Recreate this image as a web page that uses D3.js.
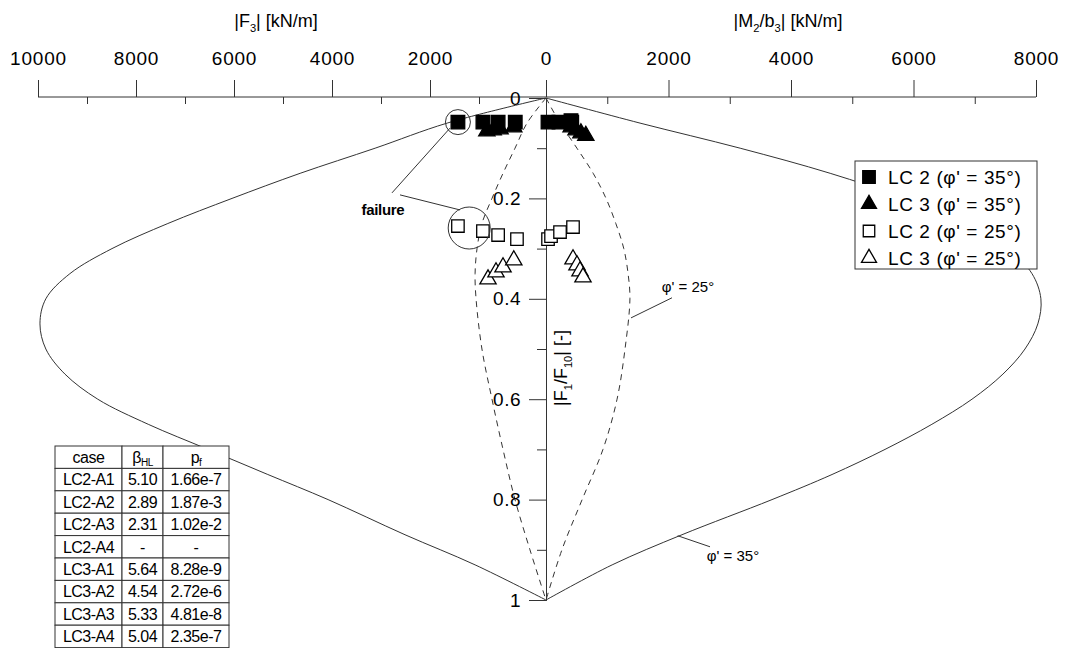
<!DOCTYPE html>
<html>
<head>
<meta charset="utf-8">
<script src="https://cdn.jsdelivr.net/npm/d3@7"></script>
<style>
body { margin: 0; background: #fff; }
text { font-family: "Liberation Sans", Arial, sans-serif; fill: #000; }
</style>
</head>
<body>
<svg id="chart" width="1076" height="648"></svg>
<script>
// ---- data ----
var ratioTicks = [0, 0.2, 0.4, 0.6, 0.8, 1];
var ratioMinor = [0.1, 0.3, 0.5, 0.7, 0.9];
var f3Ticks = [10000, 8000, 6000, 4000, 2000];
var f3Minor = [9000, 7000, 5000, 3000, 1000];
var m2Ticks = [0, 2000, 4000, 6000, 8000];
var m2Minor = [1000, 3000, 5000, 7000];

// envelopes: ratio |F1/F10| and matching |F3| (left) or |M2/b3| (right)
var envRatio = [0, 0.05, 0.1, 0.15, 0.2, 0.25, 0.3, 0.35, 0.4, 0.45, 0.5, 0.55, 0.6, 0.65, 0.7, 0.75, 0.8, 0.87, 0.93, 1];
var env35F3 = [-367, 1650, 3120, 4650, 6040, 7350, 8490, 9350, 9840, 9960, 9840, 9450, 8780, 7750, 6530, 5310, 4080, 2510, 1080, -367];
var env35M2 = [0, 1535, 3170, 4640, 5860, 6840, 7540, 7935, 8080, 8030, 7820, 7460, 6955, 6300, 5535, 4670, 3690, 2220, 1080, 0];
var dashRatio = [0, 0.05, 0.1, 0.15, 0.2, 0.25, 0.3, 0.35, 0.4, 0.5, 0.6, 0.7, 0.8, 0.9, 1];
var env25F3 = [-367, 20, 265, 510, 735, 940, 1040, 1080, 1060, 940, 735, 510, 265, -40, -367];
var env25M2 = [0, 230, 505, 770, 980, 1140, 1270, 1340, 1370, 1290, 1160, 930, 590, 260, 0];

var seriesNames = ["LC 2 (\u03c6' = 35\u00b0)", "LC 3 (\u03c6' = 35\u00b0)", "LC 2 (\u03c6' = 25\u00b0)", "LC 3 (\u03c6' = 25\u00b0)"];
// per series: cases A1..A4
var leftF3 = [[1430, 920, 610, 260], [840, 710, 570, 290], [1430, 920, 610, 225], [816, 653, 510, 290]];
var leftRatio = [[0.048, 0.048, 0.048, 0.048], [0.066, 0.064, 0.062, 0.058], [0.255, 0.265, 0.273, 0.281], [0.361, 0.347, 0.337, 0.323]];
var rightM2 = [[33, 212, 408, 420], [410, 490, 570, 650], [33, 82, 229, 441], [441, 506, 555, 604]];
var rightRatio = [[0.048, 0.048, 0.045, 0.048], [0.058, 0.064, 0.07, 0.075], [0.281, 0.275, 0.267, 0.257], [0.321, 0.333, 0.345, 0.357]];

var tableHead = ["case", "\u03b2", "p"];
var tableCases = ["LC2-A1", "LC2-A2", "LC2-A3", "LC2-A4", "LC3-A1", "LC3-A2", "LC3-A3", "LC3-A4"];
var tableBeta = ["5.10", "2.89", "2.31", "-", "5.64", "4.54", "5.33", "5.04"];
var tablePf = ["1.66e-7", "1.87e-3", "1.02e-2", "-", "8.28e-9", "2.72e-6", "4.81e-8", "2.35e-7"];

// ---- scales ----
var svg = d3.select("#chart");
var xL = d3.scaleLinear().domain([10000, 0]).range([38, 528]);
var xR = d3.scaleLinear().domain([0, 8000]).range([546, 1036]);
var y = d3.scaleLinear().domain([0, 1]).range([98, 600]);

// ---- envelopes ----
function envLine(sc, vals) {
  return d3.line().x(function(d, i) { return sc(vals[i]); }).y(function(d) { return y(d); }).curve(d3.curveCatmullRom);
}
[[xL, env35F3, envRatio, null], [xR, env35M2, envRatio, null],
 [xL, env25F3, dashRatio, "6,5"], [xR, env25M2, dashRatio, "6,5"]].forEach(function(e) {
  svg.append("path")
    .attr("d", envLine(e[0], e[1])(e[2]))
    .attr("fill", "none")
    .attr("stroke", "#333")
    .attr("stroke-width", 1)
    .attr("stroke-dasharray", e[3]);
});

// ---- top axes ----
svg.append("line").attr("x1", xL(10000)).attr("x2", xR(8000))
  .attr("y1", y(0) - 1).attr("y2", y(0) - 1).attr("stroke", "#333");

function topAxis(sc, major, minor) {
  var g = svg.append("g").attr("transform", "translate(0," + (y(0) - 1) + ")");
  g.call(d3.axisTop(sc).tickValues(major).tickSize(17).tickPadding(15).tickFormat(d3.format("d")));
  g.append("g").call(d3.axisTop(sc).tickValues(minor).tickSize(-7).tickFormat(""));
  g.selectAll(".domain").remove();
  g.selectAll("line").attr("stroke", "#333");
  g.selectAll("text").attr("font-size", 19).attr("letter-spacing", 0.8)
    .attr("font-family", "Liberation Sans, Arial, sans-serif");
}
topAxis(xL, f3Ticks, f3Minor);
topAxis(xR, m2Ticks, m2Minor);

// ---- y axis ----
var gy = svg.append("g").attr("transform", "translate(" + xR(0) + ",0)");
gy.call(d3.axisLeft(y).tickValues(ratioTicks).tickSize(17).tickPadding(8)
  .tickFormat(function(d) { return d === 0 || d === 1 ? d3.format("d")(d) : d3.format(".1f")(d); }));
gy.append("g").call(d3.axisLeft(y).tickValues(ratioMinor).tickSize(9).tickFormat(""));
gy.selectAll(".domain").attr("stroke", "#333");
gy.selectAll("line").attr("stroke", "#333");
gy.selectAll("text").attr("font-size", 19).attr("letter-spacing", 0.5)
  .attr("font-family", "Liberation Sans, Arial, sans-serif");

// axis titles
function subTitle(x0, y0, parts, size) {
  var t = svg.append("text").attr("x", x0).attr("y", y0).attr("text-anchor", "middle").attr("font-size", size);
  parts.forEach(function(p) {
    var s = t.append("tspan").text(p[0]);
    if (p[1]) s.attr("font-size", size * 0.62).attr("dy", 5);
    else if (p[2]) s.attr("dy", -5);
  });
  return t;
}
subTitle(276, 27, [["|F"], ["3", 1], ["| [kN/m]", 0, 1]], 18);
subTitle(788, 27, [["|M"], ["2", 1], ["/b", 0, 1], ["3", 1], ["| [kN/m]", 0, 1]], 18);
subTitle(0, 0, [["|F"], ["1", 1], ["/F", 0, 1], ["10", 1], ["| [-]", 0, 1]], 18)
  .attr("transform", "translate(567,368) rotate(-90)");

// ---- markers ----
var sym = [d3.symbolSquare, d3.symbolTriangle, d3.symbolSquare, d3.symbolTriangle];
var symSize = [185, 115, 155, 115];
var filled = [true, true, false, false];
seriesNames.forEach(function(name, s) {
  var pts = [];
  leftF3[s].forEach(function(v, i) { pts.push([xL(v), y(leftRatio[s][i])]); });
  rightM2[s].forEach(function(v, i) { pts.push([xR(v), y(rightRatio[s][i])]); });
  svg.append("g").selectAll("path").data(pts).enter().append("path")
    .attr("d", d3.symbol().type(sym[s]).size(symSize[s]))
    .attr("transform", function(d) { return "translate(" + d[0] + "," + d[1] + ")"; })
    .attr("fill", filled[s] ? "#000" : "#fff")
    .attr("stroke", "#000")
    .attr("stroke-width", 1.3);
});

// failure circles and label
svg.append("circle").attr("cx", xL(leftF3[0][0])).attr("cy", y(leftRatio[0][0])).attr("r", 12.5)
  .attr("fill", "none").attr("stroke", "#333");
svg.append("circle").attr("cx", xL(1200)).attr("cy", y(0.259)).attr("r", 21)
  .attr("fill", "none").attr("stroke", "#333");
svg.append("text").attr("x", xL(2960)).attr("y", y(0.223) + 5).attr("text-anchor", "middle")
  .attr("font-size", 15).attr("font-weight", "bold").attr("letter-spacing", -0.3).text("failure");
[[2776, 0.189, 1592, 0.06], [2612, 0.193, 1388, 0.223]].forEach(function(l) {
  svg.append("line").attr("x1", xL(l[0])).attr("y1", y(l[1])).attr("x2", xL(l[2])).attr("y2", y(l[3]))
    .attr("stroke", "#333");
});

// phi labels
svg.append("text").attr("x", xR(2318)).attr("y", y(0.376) + 5).attr("text-anchor", "middle")
  .attr("font-size", 15).text("\u03c6' = 25\u00b0");
svg.append("line").attr("x1", xR(2057)).attr("y1", y(0.398)).attr("x2", xR(1388)).attr("y2", y(0.438)).attr("stroke", "#333");
svg.append("text").attr("x", xR(3053)).attr("y", y(0.912) + 5).attr("text-anchor", "middle")
  .attr("font-size", 15).text("\u03c6' = 35\u00b0");
svg.append("line").attr("x1", xR(2678)).attr("y1", y(0.894)).attr("x2", xR(2150)).attr("y2", y(0.872)).attr("stroke", "#333");

// ---- legend ----
var lg = svg.append("g").attr("transform", "translate(855,161)");
lg.append("rect").attr("width", 182).attr("height", 108).attr("fill", "#fff").attr("stroke", "#333");
seriesNames.forEach(function(name, s) {
  var row = lg.append("g").attr("transform", "translate(0," + (16 + s * 27) + ")");
  row.append("path").attr("d", d3.symbol().type(sym[s]).size(symSize[s] * 0.85))
    .attr("transform", "translate(14,0)")
    .attr("fill", filled[s] ? "#000" : "#fff").attr("stroke", "#000").attr("stroke-width", 1.3);
  row.append("text").attr("x", 33).attr("y", 7).attr("font-size", 19).attr("letter-spacing", 0.6).text(name);
});

// ---- table ----
var colX = [55, 122, 163, 229];
var rowH = 22.4, top0 = 446;
var tg = svg.append("g");
var rows = [tableHead].concat(tableCases.map(function(c, i) { return [c, tableBeta[i], tablePf[i]]; }));
rows.forEach(function(r, ri) {
  r.forEach(function(c, ci) {
    tg.append("rect").attr("x", colX[ci]).attr("y", top0 + ri * rowH)
      .attr("width", colX[ci + 1] - colX[ci]).attr("height", rowH)
      .attr("fill", "#fff").attr("stroke", "#333");
    var t = tg.append("text").attr("x", (colX[ci] + colX[ci + 1]) / 2).attr("y", top0 + ri * rowH + 17)
      .attr("text-anchor", "middle").attr("font-size", 16).attr("letter-spacing", -0.5).text(c);
    if (ri === 0 && ci === 1) t.append("tspan").attr("font-size", 10).attr("dy", 3).text("HL");
    if (ri === 0 && ci === 2) t.append("tspan").attr("font-size", 10).attr("dy", 3).text("f");
  });
});
</script>
</body>
</html>
